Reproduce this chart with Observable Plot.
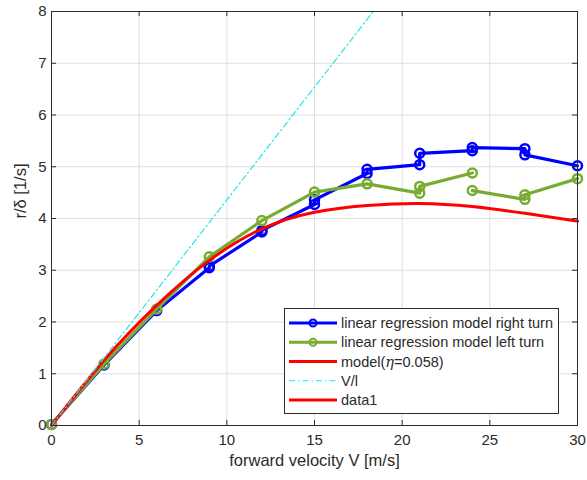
<!DOCTYPE html>
<html>
<head>
<meta charset="utf-8">
<script src="https://cdn.jsdelivr.net/npm/d3@7"></script>
<script src="https://cdn.jsdelivr.net/npm/@observablehq/plot@0.6"></script>
<style>
  html, body { margin: 0; padding: 0; background: white; }
</style>
</head>
<body>
<div id="chart"></div>
<script>
// ---- data ----
const xTicks = [0, 5, 10, 15, 20, 25, 30];
const yTicks = [0, 1, 2, 3, 4, 5, 6, 7, 8];

// linear regression model, right turn (two estimates at most speeds)
const rightSpeed = [0, 3, 6, 9, 9, 12, 12, 15, 15, 18, 18, 21, 21, 24, 24, 27, 27, 30];
const rightGain  = [0.02, 1.17, 2.22, 3.05, 3.08, 3.74, 3.77, 4.27, 4.36, 4.87, 4.95, 5.04, 5.26, 5.31, 5.37, 5.35, 5.23, 5.02];

// linear regression model, left turn (line broken at 24 m/s)
const leftSpeed = [0, 3, 6, 9, 12, 15, 18, 21, 21, 24, 24, 27, 27, 30];
const leftGain  = [0.02, 1.19, 2.25, 3.26, 3.96, 4.51, 4.67, 4.49, 4.62, 4.88, 4.54, 4.37, 4.46, 4.77];
const leftRun   = [1, 1, 1, 1, 1, 1, 1, 1, 1, 1, 2, 2, 2, 2];

// model (eta = 0.058)
const modelSpeed = [0, 3, 6, 9, 12, 15, 18, 21, 24, 27, 30];
const modelGain  = [0, 1.26, 2.32, 3.19, 3.80, 4.12, 4.25, 4.29, 4.23, 4.10, 3.95];

// V/l reference line
const vlSpeed = [0, 18.35];
const vlGain  = [0, 8];

const legendLabels = [
  "linear regression model right turn",
  "linear regression model left turn",
  "model(η=0.058)",
  "V/l",
  "data1"
];
const xLabel = "forward velocity V [m/s]";
const yLabel = "r/δ [1/s]";

// ---- tables ----
const right = rightSpeed.map((v, i) => ({v, g: rightGain[i]}));
const left = leftSpeed.map((v, i) => ({v, g: leftGain[i], run: leftRun[i]}));
const model = modelSpeed.map((v, i) => ({v, g: modelGain[i]}));
const vl = vlSpeed.map((v, i) => ({v, g: vlGain[i]}));

const BLUE = "#0000ff", GREEN = "#77ac30", RED = "#ff0000", CYAN = "#22e6e6", INK = "#2b2b2b";
const W = 587, H = 480, ML = 51, MR = 10, MT = 11, MB = 55;
const plotW = W - ML - MR, plotH = H - MT - MB, TICK = 5;
const FONT = "'Liberation Sans', Arial, Helvetica, sans-serif";

const chart = Plot.plot({
  width: W, height: H,
  marginLeft: ML, marginRight: MR, marginTop: MT, marginBottom: MB,
  x: {domain: [0, 30]},
  y: {domain: [0, 8]},
  style: {fontFamily: FONT, fontSize: "15px", color: INK, background: "white", overflow: "visible"},
  marks: [
    Plot.gridX(xTicks, {stroke: "#dfdfdf", strokeOpacity: 1}),
    Plot.gridY(yTicks, {stroke: "#dfdfdf", strokeOpacity: 1}),
    Plot.line(right, {x: "v", y: "g", stroke: BLUE, strokeWidth: 3.2}),
    Plot.dot(right, {x: "v", y: "g", r: 4.5, stroke: BLUE, strokeWidth: 2.5, fill: "none"}),
    Plot.line(left, {x: "v", y: "g", z: "run", stroke: GREEN, strokeWidth: 3.2}),
    Plot.dot(left, {x: "v", y: "g", r: 4.5, stroke: GREEN, strokeWidth: 2.5, fill: "none"}),
    Plot.line(model, {x: "v", y: "g", stroke: RED, strokeWidth: 3, curve: "natural"}),
    Plot.line(vl, {x: "v", y: "g", stroke: CYAN, strokeWidth: 1.2, strokeDasharray: "6,3,1.5,3"}),
    Plot.frame({stroke: INK, strokeWidth: 1}),
    Plot.tickX(xTicks, {x: d => d, stroke: INK, insetTop: plotH - TICK}),
    Plot.tickX(xTicks, {x: d => d, stroke: INK, insetBottom: plotH - TICK}),
    Plot.tickY(yTicks, {y: d => d, stroke: INK, insetRight: plotW - TICK}),
    Plot.tickY(yTicks, {y: d => d, stroke: INK, insetLeft: plotW - TICK}),
    Plot.axisX(xTicks, {tickSize: 0, tickPadding: 9, label: null, fontSize: 15, fill: INK, tickFormat: d => String(d)}),
    Plot.axisY(yTicks, {tickSize: 0, tickPadding: 5, label: null, fontSize: 15, fill: INK, tickFormat: d => String(d)}),
    Plot.text([xLabel], {text: d => d, frameAnchor: "bottom", dy: 40, fontSize: 16.5, fill: INK}),
    Plot.text([yLabel], {text: d => d, frameAnchor: "left", dx: -31, rotate: -90, fontSize: 16.5, fill: INK})
  ]
});

document.getElementById("chart").appendChild(chart);

// ---- legend (inside the axes, lower right) ----
const svg = d3.select(chart);
const lg = svg.append("g").attr("font-family", FONT).attr("font-size", 14.5)
  .attr("fill", INK).attr("text-anchor", "start");
lg.append("rect").attr("x", 284.5).attr("y", 308.5).attr("width", 274).attr("height", 105)
  .attr("fill", "white").attr("stroke", INK).attr("stroke-width", 1);
const styles = [
  {c: BLUE, w: 3, dot: true},
  {c: GREEN, w: 3, dot: true},
  {c: RED, w: 3},
  {c: CYAN, w: 1.2, dash: "6,3,1.5,3"},
  {c: RED, w: 3}
];
legendLabels.forEach((lab, i) => {
  const y = 323 + i * 19.25;
  const s = styles[i];
  lg.append("line").attr("x1", 289).attr("x2", 337).attr("y1", y).attr("y2", y)
    .attr("stroke", s.c).attr("stroke-width", s.w).attr("stroke-dasharray", s.dash || null);
  if (s.dot) lg.append("circle").attr("cx", 313).attr("cy", y).attr("r", 3.5)
    .attr("fill", "none").attr("stroke", s.c).attr("stroke-width", 2);
  const t = lg.append("text").attr("x", 341).attr("y", y).attr("dy", "0.35em").attr("text-anchor", "start");
  if (lab.includes("η")) {
    const parts = lab.split("η");
    t.append("tspan").text(parts[0]);
    t.append("tspan").attr("font-style", "italic").attr("font-family", "'DejaVu Serif', serif").text("η");
    t.append("tspan").text(parts[1]);
  } else {
    t.text(lab);
  }
});
</script>
</body>
</html>
